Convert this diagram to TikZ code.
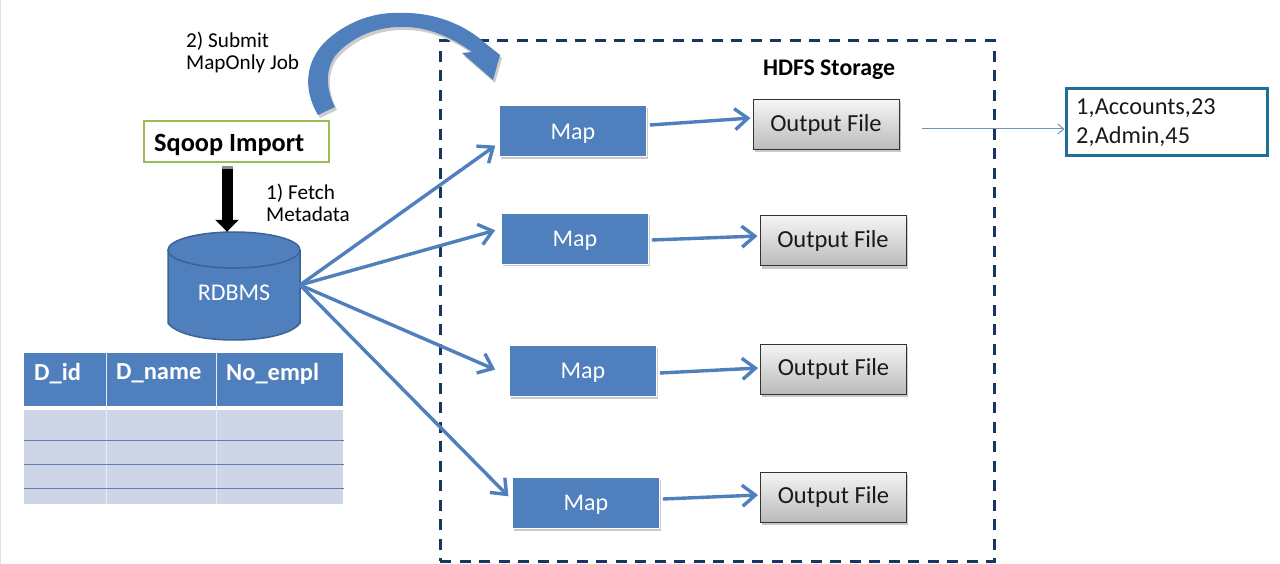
\documentclass[tikz,border=0pt]{standalone}
\usepackage{fontspec}
\setmainfont{Carlito}
\usetikzlibrary{arrows.meta,shadows}
\definecolor{mapblue}{HTML}{4F7FBC}
\definecolor{dbedge}{HTML}{3A6396}
\definecolor{navy}{HTML}{17375E}
\definecolor{rowfill}{HTML}{CDD5E6}
\definecolor{rowline}{HTML}{5B7FB5}
\definecolor{sqgreen}{HTML}{9BBB59}
\definecolor{tealbox}{HTML}{1F6F9E}
\definecolor{thinblue}{HTML}{6A96BE}
\tikzset{
  softshadow/.style={drop shadow={opacity=.35,shadow xshift=1.5pt,shadow yshift=-2.5pt,fill=black!60}},
  mapbox/.style={rectangle,fill=mapblue,draw=white,line width=.8pt,minimum width=147pt,minimum height=51pt,inner sep=0pt,text=white,text depth=0pt,font=\fontsize{24}{26}\selectfont,softshadow},
  filebox/.style={rectangle,draw=black!80,line width=1pt,top color=black!4,bottom color=black!27,minimum width=146pt,minimum height=50pt,inner sep=0pt,text=black!90,font=\fontsize{24.5}{26}\selectfont,softshadow},
  flow/.style={draw=mapblue,line width=3.4pt,-{Straight Barb[length=13pt,width=21pt,line width=3.4pt]},shorten >=1pt},
  lbl/.style={inner sep=0pt,align=left,anchor=north west,text=black,font=\fontsize{21.2}{22}\selectfont},
  thead/.style={inner sep=0pt,anchor=west,text=white,font=\bfseries\fontsize{24.5}{26}\selectfont},
}
\newcommand{\sqoopcurve}{(318,115) .. controls (303,90) and (303,58) .. (333,35) .. controls (355,18) and (380,12) .. (400,13) .. controls (435,12) and (465,25) .. (485,43) -- (500,55) -- (493,80) -- (462,53) -- (472,52) .. controls (450,36) and (425,26) .. (400,27) .. controls (375,27) and (350,38) .. (335,56) .. controls (325,70) and (326,90) .. (335,107) -- cycle}
\begin{document}
\begin{tikzpicture}[x=1pt,y=-1pt]
\useasboundingbox (0,0) rectangle (1280,564);
\fill[white] (0,0) rectangle (1280,564);
\fill[black!12] (0,0) rectangle (1.2,564);

% table
\fill[mapblue] (24,353) rectangle (343,406);
\fill[rowfill] (24,410) rectangle (343,504);
\draw[white!85!mapblue,line width=1.2pt] (106.5,353) -- (106.5,504) (216.5,353) -- (216.5,504);
\draw[rowline,line width=.9pt] (24,440.5) -- (344,440.5) (24,464) -- (344,464) (24,488.5) -- (344,488.5);
\node[thead] (hid) at (34,373.5) {D\_id};
\node[thead] (hname) at (116,373.5) {D\_name};
\node[thead] (hno) at (226,373.5) {No\_empl};

% dashed HDFS box
\node[rectangle,draw=navy,line width=3pt,dash pattern=on 11pt off 8.5pt,minimum width=554pt,minimum height=520pt,inner sep=0pt] (hdfs) at (717,301) {};
\node[inner sep=0pt,font=\bfseries\fontsize{23.8}{26}\selectfont] (hdfslabel) at (829,69.5) {HDFS Storage};

% curved arrow
\fill[black!20] [shift={(2,3)}] \sqoopcurve;
\fill[mapblue] \sqoopcurve;

% source nodes
\node[rectangle,draw=sqgreen,line width=2.5pt,minimum width=185pt,minimum height=41pt,inner sep=0pt] (sqoop) at (236.5,141.5) {};
\node[inner sep=0pt,anchor=west,font=\bfseries\fontsize{26.3}{28}\selectfont] (sqooptext) at (154,145) {Sqoop Import};
\draw[dbedge,line width=1.5pt,fill=mapblue] (168,250) -- (168,323) .. controls (175,333) and (200,340) .. (234,340) .. controls (268,340) and (293,333) .. (300,323) -- (300,250);
\draw[dbedge,line width=1.5pt,fill=mapblue] (234,250) ellipse [x radius=66pt,y radius=18pt];
\node[rectangle,minimum width=132pt,minimum height=108pt,inner sep=0pt,text=white,text depth=0pt,font=\fontsize{24}{26}\selectfont] (rdbms) at (234,286) {\raisebox{-14pt}{RDBMS}};
\coordinate (port) at (300,285);

\node[lbl] (submit) at (186,32) {2) Submit\\MapOnly Job};
\node[lbl] (fetch) at (266,184) {1) Fetch\\Metadata};

% maps
\node[mapbox] (map1) at (573,131) {\raisebox{-1pt}{Map}};
\node[mapbox] (map2) at (575,238.5) {Map};
\node[mapbox] (map3) at (583,371) {Map};
\node[mapbox] (map4) at (586,503) {Map};

% output files
\node[filebox] (out1) at (826,125) {\raisebox{-1pt}{Output File}};
\node[filebox] (out2) at (833,241) {\raisebox{-1pt}{Output File}};
\node[filebox] (out3) at (833.5,369) {\raisebox{-1pt}{Output File}};
\node[filebox] (out4) at (833.5,497) {\raisebox{-1pt}{Output File}};

% result box
\node[rectangle,draw=tealbox,line width=3pt,minimum width=201pt,minimum height=67pt,inner sep=0pt,fill=white] (result) at (1166.5,122.5) {};
\node[inner sep=0pt,align=left,anchor=north west,font=\fontsize{24.3}{29}\selectfont,text=black!90] (resulttext) at (1076,98.5) {1,Accounts,23\\2,Admin,45};

% connectors
\draw[line width=11pt,-{Triangle[length=12pt,width=23pt,black]},draw=black] ([xshift=-9.5pt,yshift=-5pt]sqoop.south) -- ([xshift=-7pt]rdbms.north);
\fill[black!45] (221.5,166.5) rectangle (232.5,169);
\draw[flow] (port) -- ([xshift=-3pt,yshift=-14pt]map1.west);
\draw[flow] (port) -- ([xshift=-5pt,yshift=8.5pt]map2.west);
\draw[flow] (port) -- ([xshift=-13pt,yshift=1pt]map3.west);
\draw[flow] (port) -- ([xshift=-3pt,yshift=6pt]map4.west);
\draw[flow] ([xshift=3pt,yshift=6pt]map1.east) -- ([xshift=-1pt,yshift=7pt]out1.west);
\draw[flow] ([xshift=3pt,yshift=-1.5pt]map2.east) -- ([xshift=-1pt,yshift=5pt]out2.west);
\draw[flow] ([xshift=3pt,yshift=-2pt]map3.east) -- ([xshift=-1pt,yshift=1pt]out3.west);
\draw[flow] ([xshift=3pt,yshift=4pt]map4.east) -- ([xshift=-1pt,yshift=2pt]out4.west);
\draw[thinblue,line width=1pt,-{Straight Barb[length=6pt,width=10pt]}] ([xshift=22pt,yshift=-4pt]out1.east) -- ([yshift=-6.5pt]result.west);
\end{tikzpicture}
\end{document}
